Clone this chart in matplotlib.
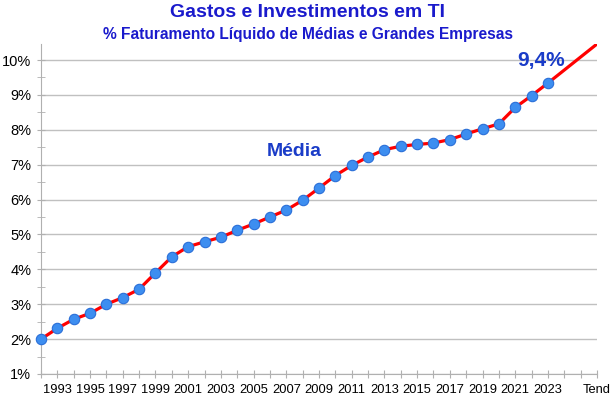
import matplotlib
matplotlib.use('Agg')
import matplotlib.pyplot as plt
import numpy as np

# dados (% do faturamento liquido)
anos = list(range(1992, 2024))
valores = [2.00, 2.31, 2.57, 2.74, 3.00, 3.19, 3.43, 3.90, 4.36, 4.65,
           4.79, 4.92, 5.12, 5.30, 5.50, 5.70, 5.98, 6.33, 6.69, 6.98,
           7.22, 7.43, 7.53, 7.58, 7.62, 7.72, 7.88, 8.03, 8.17, 8.64,
           8.98, 9.34]
tend_anos = [2023, 2026]
tend_valores = [9.34, 10.46]
rotulos = {a: str(a) for a in range(1993, 2024, 2)}
rotulos[2026] = 'Tend'

plt.rcParams['font.family'] = ['Liberation Sans', 'DejaVu Sans']
fig = plt.figure(figsize=(6.16, 3.99), dpi=100)
ax = fig.add_axes([0.0666, 0.0627, 0.9025, 0.827])

ax.plot(tend_anos, tend_valores, color='#ff0000', linewidth=2.3, zorder=2,
        solid_capstyle='butt')
ax.plot(anos, valores, color='#ff0000', linewidth=2.3, zorder=3,
        marker='o', markersize=7.5, markerfacecolor='#3d8ef0',
        markeredgecolor='#2a6fd8', markeredgewidth=0.8, clip_on=False)

ax.set_xlim(1992, 2026)
ax.set_ylim(1, 10.46)

ax.set_yticks(np.arange(1, 11))
ax.set_yticklabels([f'{i}%' for i in range(1, 11)])
ax.set_yticks(np.arange(1.5, 10.5, 1), minor=True)
xt = list(range(1992, 2027))
ax.set_xticks(xt, labels=[rotulos.get(a, '') for a in xt])

ax.tick_params(axis='y', which='both', direction='inout', length=6,
               color='#b0b0b0', labelsize=10.5, pad=4)
ax.tick_params(axis='x', which='major', direction='inout', length=6,
               color='#b0b0b0', labelsize=9.3, pad=4)

ax.grid(axis='y', which='major', color='#c0c0c0', linewidth=1)
for s in ['top', 'right']:
    ax.spines[s].set_visible(False)
ax.spines['left'].set_color('#b0b0b0')
ax.spines['bottom'].set_color('#b0b0b0')
ax.set_axisbelow(True)

fig.text(0.5, 0.99, 'Gastos e Investimentos em TI', ha='center', va='top',
         fontsize=14, fontweight='bold', color='#1a1acc')
fig.text(0.5, 0.932, '% Faturamento Líquido de Médias e Grandes Empresas',
         ha='center', va='top', fontsize=11.2, fontweight='bold', color='#1a1acc')

ax.text(2007.5, 7.37, 'Média', ha='center', va='center', fontsize=14,
        fontweight='bold', color='#1a3cc8')
ax.text(2022.6, 10.0, '9,4%', ha='center', va='center', fontsize=15,
        fontweight='bold', color='#1a3cc8')

fig.savefig('out.png', dpi=100)
